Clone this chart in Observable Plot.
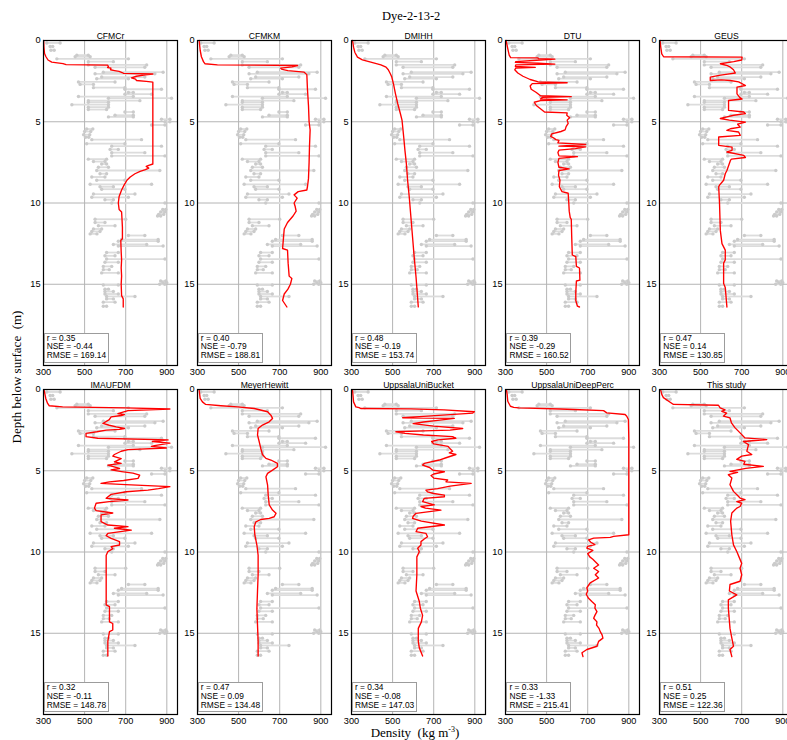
<!DOCTYPE html>
<html>
<head>
<meta charset="utf-8">
<script src="https://cdn.jsdelivr.net/npm/d3@7"></script>
<script src="https://cdn.jsdelivr.net/npm/@observablehq/plot@0.6"></script>
<style>
  html, body { margin: 0; padding: 0; background: #fff; overflow: hidden; }
  #fig { position: relative; width: 787px; height: 740px; overflow: hidden; background: #fff; }
  #fig svg { position: absolute; }
  .title { position: absolute; font-family: "Liberation Serif", "Times New Roman", serif; font-size: 12.5px; white-space: pre; }
  .stats { position: absolute; box-sizing: border-box; background: #fff; border: 1px solid #9c9c9c;
           font-family: "Liberation Sans", Arial, sans-serif; font-size: 8.4px; line-height: 8.9px;
           padding: 0 0 0 2px; white-space: pre; color: #000; }
</style>
</head>
<body>
<div id="fig"></div>
<script>
// ---- axes ----
const xTicks = [300, 500, 700, 900];
const yTicks = [0, 5, 10, 15];
const xGridValues = [500, 700, 900];
const yGridValues = [5, 10, 15];

// ---- model names and skill scores ----
const modelNames = ["CFMCr", "CFMKM", "DMIHH", "DTU", "GEUS",
                    "IMAUFDM", "MeyerHewitt", "UppsalaUniBucket", "UppsalaUniDeepPerc", "This study"];
const rValues    = [0.35, 0.40, 0.48, 0.39, 0.47, 0.32, 0.47, 0.34, 0.33, 0.51];
const nseValues  = [-0.44, -0.79, -0.19, -0.29, 0.14, -0.11, 0.09, -0.08, -1.33, 0.25];
const rmseValues = [169.14, 188.81, 153.74, 160.52, 130.85, 148.78, 134.48, 147.03, 215.41, 122.36];

// ---- observed core density: depth (m) and the two densities (kg m-3) joined at that depth ----
const obsDepth = [0.15, 0.37, 0.6, 0.9, 1.0, 1.13, 1.3, 1.5, 1.65, 1.95, 2.05, 2.25, 2.35, 2.55, 2.7, 2.9, 3.0, 3.2, 3.3,
  3.45, 3.55, 3.7, 3.8, 3.95, 4.1, 4.25, 4.4, 4.6, 4.7, 4.85, 5.0, 5.2, 5.45, 5.6, 5.8, 5.95, 6.1, 6.35, 6.5, 6.7,
  6.9, 7.1, 7.3, 7.45, 7.6, 7.8, 8.0, 8.2, 8.4, 8.6, 8.85, 9.0, 9.15, 9.45, 9.65, 9.8, 10.0, 10.4, 10.55, 10.7,
  10.8, 11.0, 11.2, 11.4, 11.6, 11.75, 11.9, 12.0, 12.25, 12.35, 12.55, 12.65, 13.05, 13.25, 13.45, 13.65, 13.9,
  14.1, 14.3, 14.8, 14.9, 15.0, 15.05, 15.3, 15.45, 15.6, 15.75, 15.9, 16.1, 16.35];
const obsLow = [316, 332, 336, 462, 454, 365, 518, 518, 551, 591, 551, 583, 559, 470, 478, 543, 696, 713, 696,
  470, 616, 518, 518, 438, 518, 518, 696, 648, 616, 874, 891, 826, 510, 500, 495, 505, 535, 510, 632, 624,
  632, 632, 518, 543, 583, 567, 559, 575, 535, 559, 527, 575, 583, 543, 535, 599, 632, 880, 870, 860,
  855, 551, 551, 567, 543, 535, 527, 713, 680, 664, 640, 664, 607, 599, 607, 599, 591,
  591, 583, 870, 880, 865, 591, 599, 599, 599, 607, 607, 591, 591];
const obsHigh = [381, 345, 352, 518, 527, 713, 640, 802, 793, 882, 842, 793, 713, 648, 543, 696, 874, 737, 826,
  737, 923, 769, 616, 616, 616, 607, 737, 737, 737, 915, 915, 891, 540, 530, 525, 520, 777, 696, 874, 664,
  793, 891, 607, 599, 607, 616, 866, 607, 599, 696, 826, 640, 696, 745, 713, 640, 891, 895, 890, 885,
  870, 700, 599, 648, 583, 575, 560, 793, 858, 858, 802, 882, 664, 648, 891, 664, 632,
  620, 664, 895, 900, 890, 664, 616, 640, 664, 745, 640, 648, 607];

// ---- modelled density profiles: [depth (m), density (kg m-3)] ----
const CFMCr = [[0,301],[0.4,302],[0.8,305],[1.0,312],[1.2,322],[1.33,340],[1.42,395],[1.48,410],[1.52,612],[1.6,616],
  [1.66,612],[1.7,628],[1.8,626],[1.85,646],[1.9,668],[1.97,682],[2.02,690],[2.06,832],[2.12,795],[2.2,752],[2.3,728],
  [2.38,748],[2.46,752],[2.52,800],[2.56,832],[4,832],[6,832],[7.6,832],[7.68,812],[7.75,800],[7.85,812],[7.95,796],
  [8.05,770],[8.2,745],[8.4,722],[8.6,706],[8.9,692],[9.2,680],[9.6,668],[10.0,664],[10.4,668],[10.55,680],[11,682],
  [11.5,684],[12.2,684],[12.3,676],[13,678],[13.5,680],[14,678],[14.5,680],[15,678],[15.7,680],[15.9,688],[16.4,688]];
const CFMKM = [[0,308],[0.6,313],[1.0,319],[1.3,329],[1.43,336],[1.5,397],[1.54,787],[1.62,760],[1.7,705],[1.78,712],
  [1.85,740],[1.95,819],[2.1,832],[3,835],[4,840],[5,843],[5.5,848],[6.5,845],[7.5,843],[8.5,840],[9.0,835],[9.2,832],
  [9.3,790],[9.5,770],[9.7,785],[10.0,770],[10.2,775],[10.5,780],[10.8,765],[11.2,738],[11.6,722],[12.5,716],[12.8,714],
  [12.9,738],[13.7,741],[14.5,746],[14.65,759],[15.0,752],[15.3,740],[15.6,722],[16.0,714],[16.4,735]];
const DMIHH = [[0,305],[0.41,310],[0.72,316],[1.02,329],[1.19,353],[1.33,394],[1.5,443],[1.64,468],[1.8,479],[2.05,489],
  [2.25,496],[2.66,504],[3.28,514],[3.89,525],[4.51,538],[4.92,546],[5.94,554],[6.76,560],[7.58,567],[8.61,573],
  [9.63,581],[10.86,589],[12.09,597],[13.32,605],[14.55,614],[16.39,625]];
const DTU = [[0,303],[0.5,311],[0.9,318],[1.05,325],[1.07,458],[1.12,460],[1.15,540],[1.2,470],[1.3,350],[1.35,348],
  [1.4,460],[1.45,540],[1.5,350],[1.6,348],[1.65,445],[1.7,350],[1.8,345],[2.0,360],[2.2,385],[2.4,420],[2.55,460],
  [2.6,600],[2.65,430],[2.8,420],[3.0,425],[3.2,450],[3.4,470],[3.45,620],[3.5,480],[3.6,470],[3.65,600],[3.7,470],
  [3.8,440],[4.0,450],[4.2,470],[4.4,490],[4.45,600],[4.6,598],[4.75,612],[4.9,600],[5.1,605],[5.3,595],[5.5,590],
  [5.6,570],[5.75,525],[5.9,520],[6.0,535],[6.1,545],[6.15,560],[6.3,555],[6.4,690],[6.5,560],[6.55,690],[6.65,640],
  [6.75,560],[6.9,555],[7.1,560],[7.15,650],[7.25,560],[7.5,555],[7.8,560],[7.9,610],[8.0,560],[8.3,558],[8.6,565],
  [9.0,562],[9.3,575],[9.4,605],[10.0,608],[10.5,610],[10.9,615],[11.0,620],[12.0,622],[13.2,625],[13.3,642],[13.9,645],
  [14.0,660],[14.75,662],[14.8,645],[15.5,642],[16.0,642],[16.35,650],[16.4,660]];
const GEUS = [[0,303],[0.4,306],[0.82,311],[1.0,320],[1.02,702],[1.2,700],[1.3,661],[1.43,596],[1.55,630],[1.64,645],
  [1.8,660],[2.0,669],[2.05,640],[2.15,590],[2.25,547],[2.46,547],[2.42,600],[2.46,645],[2.55,685],[2.77,718],[2.87,677],
  [3.28,677],[3.5,690],[3.6,702],[3.69,636],[4.3,636],[4.4,710],[4.5,718],[4.6,661],[4.7,628],[4.8,596],[4.9,640],
  [5.02,718],[5.15,680],[5.33,693],[5.43,645],[5.53,628],[5.63,685],[5.84,693],[5.94,588],[6.45,588],[6.56,653],
  [6.76,653],[6.86,628],[7.07,710],[7.2,718],[7.3,650],[7.38,645],[8.0,628],[8.2,620],[8.6,612],[8.9,592],[9.0,588],
  [10.0,592],[11.7,596],[12.5,604],[12.9,620],[13.5,620],[13.7,612],[14.96,612],[15.2,620],[16.4,628]];
const IMAUFDM = [[0.04,303],[0.55,311],[0.86,320],[1.0,328],[1.07,393],[1.13,700],[1.2,915],[1.3,711],[1.48,662],
  [1.55,694],[1.6,678],[1.68,629],[1.85,620],[2.09,589],[2.2,620],[2.3,654],[2.4,694],[2.45,670],[2.5,605],[2.6,560],
  [2.7,507],[2.9,507],[3.0,564],[3.1,906],[3.2,830],[3.3,915],[3.45,840],[3.5,825],[3.6,898],[3.7,711],[3.8,678],
  [4.0,645],[4.1,637],[4.25,678],[4.45,645],[4.55,678],[4.65,613],[4.86,670],[4.95,629],[5.05,680],[5.15,735],
  [5.27,768],[5.47,760],[5.6,690],[5.68,621],[5.78,580],[5.85,700],[5.98,915],[6.1,860],[6.19,808],[6.29,703],
  [6.45,629],[6.7,605],[6.8,711],[6.9,620],[7.0,556],[7.3,548],[7.45,556],[7.6,637],[7.72,580],[8.13,580],[8.34,613],
  [8.44,711],[8.54,645],[8.65,727],[8.85,613],[9.0,605],[9.16,629],[9.36,670],[9.57,670],[9.67,629],[9.8,637],
  [9.98,613],[10.2,605],[11.2,605],[12.4,605],[13.25,605],[13.36,621],[14.3,621],[14.4,637],[14.8,637],[14.9,621],
  [15.5,613],[16.4,613]];
const MeyerHewitt = [[0.04,308],[0.55,313],[0.76,324],[0.92,340],[1.0,414],[1.07,495],[1.17,576],[1.37,641],[1.58,657],
  [1.78,665],[1.99,649],[2.19,616],[2.4,595],[2.8,592],[3.2,600],[3.63,608],[4.0,616],[4.24,633],[4.34,657],[4.55,689],
  [4.75,689],[4.96,665],[5.16,641],[5.37,633],[5.88,641],[6.5,644],[7.1,649],[7.42,665],[7.62,682],[7.83,673],
  [7.93,649],[8.0,608],[8.14,584],[8.44,576],[8.95,579],[9.57,589],[10.2,595],[11.4,595],[12.4,592],[13.5,589],
  [14.5,592],[15.5,595],[16.4,595]];
const UppsalaUniBucket = [[0.04,305],[0.76,310],[1.07,321],[1.12,337],[1.17,346],[1.19,589],[1.25,750],[1.37,898],
  [1.45,890],[1.55,780],[1.65,650],[1.74,549],[1.78,800],[1.9,720],[2.0,650],[2.1,600],[2.25,700],[2.4,841],[2.5,780],
  [2.55,650],[2.6,516],[2.7,560],[2.8,650],[2.9,792],[3.0,808],[3.1,720],[3.2,690],[3.35,700],[3.5,770],[3.65,780],
  [3.8,792],[3.9,776],[4.0,808],[4.2,760],[4.34,727],[4.55,654],[4.65,646],[4.8,680],[4.96,695],[5.06,752],[5.2,700],
  [5.3,687],[5.45,700],[5.57,768],[5.68,760],[5.78,882],[5.95,780],[6.1,719],[6.19,662],[6.3,670],[6.4,700],[6.5,752],
  [6.6,752],[6.7,654],[6.9,646],[7.1,703],[7.2,638],[7.3,660],[7.42,735],[7.62,614],[7.8,600],[7.93,597],[8.1,640],
  [8.34,752],[8.54,622],[8.75,614],[8.85,662],[9.06,670],[9.2,654],[9.36,638],[9.57,638],[9.77,622],[9.98,630],
  [10.3,618],[11.4,618],[12.4,614],[13.05,630],[13.46,635],[13.9,646],[14.3,640],[14.7,625],[15.5,625],[15.9,630],
  [16.4,646]];
const UppsalaUniDeepPerc = [[0.04,305],[0.3,308],[0.72,311],[1.03,324],[1.1,340],[1.13,365],[1.2,567],[1.23,632],
  [1.3,777],[1.44,793],[1.54,882],[1.65,890],[1.85,898],[3,900],[5,900],[7,900],[8.94,900],[9.04,826],[9.1,810],
  [9.15,729],[9.25,704],[9.4,715],[9.55,735],[9.65,700],[9.76,696],[9.9,725],[10.1,700],[10.3,710],[10.45,725],
  [10.6,737],[10.8,753],[11.0,729],[11.2,753],[11.4,737],[11.6,753],[11.9,712],[12.2,696],[12.4,700],[12.6,693],
  [12.85,704],[13.05,720],[13.25,737],[13.45,735],[13.67,745],[13.9,735],[14.08,729],[14.3,745],[14.5,743],[14.7,755],
  [14.9,761],[15.1,770],[15.3,774],[15.5,753],[15.8,745],[16.0,696],[16.2,672],[16.44,677]];
const ThisStudy = [[0.04,306],[0.3,311],[0.5,319],[0.92,368],[0.97,587],[1.13,595],[1.25,619],[1.34,603],[1.45,627],
  [1.64,611],[1.75,643],[2.05,650],[2.36,668],[2.67,692],[2.98,716],[3.08,822],[3.2,708],[3.39,733],[3.8,725],[4.0,749],
  [4.1,700],[4.3,676],[4.42,716],[4.6,710],[4.73,805],[4.85,720],[5.04,643],[5.1,680],[5.24,635],[5.45,652],[5.86,643],
  [6.27,660],[6.68,692],[6.78,716],[6.9,676],[7.0,700],[7.2,692],[7.3,676],[7.6,652],[8.1,646],[8.94,652],[9.56,660],
  [9.97,676],[10.7,700],[11.0,692],[11.4,700],[11.8,692],[12.0,643],[12.4,640],[12.64,676],[12.95,635],[13.46,635],
  [14.7,643],[15.3,652],[15.8,660],[16.0,643],[16.44,652]];

const profiles = [CFMCr, CFMKM, DMIHH, DTU, GEUS, IMAUFDM, MeyerHewitt, UppsalaUniBucket, UppsalaUniDeepPerc, ThisStudy];

// ---- layout ----
const SANS = "'Liberation Sans', Arial, Helvetica, sans-serif";
const FW = 134, FH = 325;                 // inner frame size of each panel
const ML = 24, MR = 2, MT = 18, MB = 18;  // panel margins
const colLeft = [42.7, 196.8, 350.9, 505.4, 659.3];
const rowTop = [40, 389.3];

const observed = obsDepth.map((depth, i) => ({depth, lo: obsLow[i], hi: obsHigh[i]}));
const observedEnds = observed.flatMap(d => [{depth: d.depth, density: d.lo}, {depth: d.depth, density: d.hi}]);

const fig = document.getElementById("fig");

modelNames.forEach((name, i) => {
  const row = Math.floor(i / 5), col = i % 5;
  const profile = profiles[i].map(([depth, density]) => ({depth, density}));
  const svg = Plot.plot({
    width: ML + FW + MR,
    height: MT + FH + MB,
    marginLeft: ML, marginRight: MR, marginTop: MT, marginBottom: MB,
    style: {background: "transparent", fontFamily: SANS, fontSize: "9.2px", color: "#000", overflow: "visible"},
    x: {domain: [300, 952], ticks: xTicks, tickSize: 0, tickPadding: 2.5, tickFormat: d => String(d), label: null},
    y: {domain: [0, 20], reverse: true, ticks: yTicks, tickSize: 0, tickPadding: 3, tickFormat: d => String(d), label: null},
    marks: [
      Plot.ruleX(xGridValues, {stroke: "#b4b4b4", strokeWidth: 1}),
      Plot.ruleY(yGridValues, {stroke: "#b4b4b4", strokeWidth: 1}),
      Plot.link(observed, {x1: "lo", x2: "hi", y1: "depth", y2: "depth", stroke: "#dcdcdc", strokeWidth: 1.8}),
      Plot.dot(observedEnds, {x: "density", y: "depth", r: 1.7, fill: "#cbcbcb", stroke: "none"}),
      Plot.line(profile, {x: "density", y: "depth", stroke: "#ff0000", strokeWidth: 1.35}),
      Plot.frame({stroke: "#000", strokeWidth: 1.2}),
      Plot.text([name], {text: d => d, frameAnchor: "top", lineAnchor: "bottom", dy: -2, fontSize: 8.6, fill: "#000"})
    ]
  });
  svg.style.left = (colLeft[col] - ML) + "px";
  svg.style.top = (rowTop[row] - MT) + "px";
  fig.appendChild(svg);

  // skill-score box in the lower-left corner of the panel
  const box = document.createElement("div");
  box.className = "stats";
  box.style.left = (colLeft[col] + 1) + "px";
  box.style.top = (rowTop[row] + FH - 32.5) + "px";
  box.style.width = "65px";
  box.style.height = "30px";
  box.textContent = `r = ${rValues[i].toFixed(2)}\nNSE = ${nseValues[i].toFixed(2)}\nRMSE = ${rmseValues[i].toFixed(2)}`;
  fig.appendChild(box);
});

// ---- figure title and shared axis labels ----
const title = document.createElement("div");
title.className = "title";
title.textContent = "Dye-2-13-2";
title.style.left = "382px"; title.style.top = "9px";
fig.appendChild(title);

const ylab = document.createElement("div");
ylab.className = "title";
ylab.style.fontSize = "13px";
ylab.textContent = "Depth below surface  (m)";
ylab.style.left = "17px"; ylab.style.top = "377px";
ylab.style.transform = "translate(-50%, -50%) rotate(-90deg)";
fig.appendChild(ylab);

const xlab = document.createElement("div");
xlab.className = "title";
xlab.style.fontSize = "13px";
xlab.innerHTML = "Density  (kg m<sup style=\"font-size:8px\">-3</sup>)";
xlab.style.left = "415px"; xlab.style.top = "733px";
xlab.style.transform = "translate(-50%, -50%)";
fig.appendChild(xlab);
</script>
</body>
</html>
